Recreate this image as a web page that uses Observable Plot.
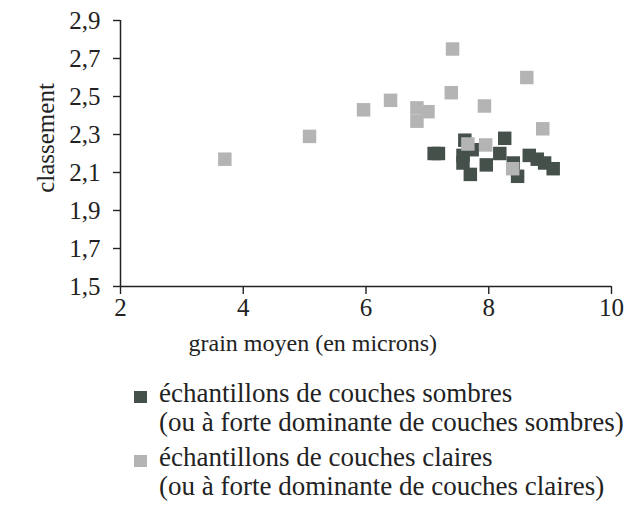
<!DOCTYPE html>
<html>
<head>
<meta charset="utf-8">
<script src="https://cdn.jsdelivr.net/npm/d3@7"></script>
<script src="https://cdn.jsdelivr.net/npm/@observablehq/plot@0.6"></script>
<style>
  body { margin: 0; background: #fff; font-family: "Liberation Serif", "Times New Roman", serif; color: #222; }
  #chart svg { display: block; }
  #chart svg text { font-family: "Liberation Serif", "Times New Roman", serif !important; font-variant: normal !important; font-variant-numeric: normal !important; }
  .legend { padding-top: 14px; font-size: 27px; line-height: 29px; white-space: nowrap; }
  .item { position: relative; padding-left: 159px; }
  .item + .item { margin-top: 6px; }
  .sw { position: absolute; left: 134px; top: 12px; width: 13px; height: 12px; }
</style>
</head>
<body>
<div id="chart"></div>
<div class="legend" id="legend"></div>
<script>
// Dark samples (couches sombres)
const darkX = [7.11, 7.18, 7.61, 7.73, 7.58, 7.58, 7.70, 7.96, 8.26, 8.18, 8.40, 8.47, 8.66, 8.79, 8.91, 9.05];
const darkY = [2.20, 2.20, 2.27, 2.22, 2.19, 2.15, 2.09, 2.14, 2.28, 2.20, 2.15, 2.08, 2.19, 2.17, 2.15, 2.12];
// Light samples (couches claires)
const lightX = [3.70, 5.08, 5.96, 6.40, 6.83, 7.01, 6.83, 7.41, 7.39, 7.93, 8.62, 8.88, 7.66, 7.95, 8.39];
const lightY = [2.17, 2.29, 2.43, 2.48, 2.44, 2.42, 2.37, 2.75, 2.52, 2.45, 2.60, 2.33, 2.25, 2.245, 2.12];

const xTicks = [2, 4, 6, 8, 10];
const yTicks = [1.5, 1.7, 1.9, 2.1, 2.3, 2.5, 2.7, 2.9];
const xLabel = "grain moyen (en microns)";
const yLabel = "classement";
const seriesNames = ["échantillons de couches sombres", "échantillons de couches claires"];
const seriesNotes = ["(ou à forte dominante de couches sombres)", "(ou à forte dominante de couches claires)"];
const seriesColors = ["#46504b", "#b4b4b4"];

const dark = darkX.map((x, i) => ({x, y: darkY[i]}));
const light = lightX.map((x, i) => ({x, y: lightY[i]}));

const chart = Plot.plot({
  width: 639,
  height: 365,
  marginLeft: 120,
  marginRight: 28,
  marginTop: 20,
  marginBottom: 79,
  style: {fontFamily: "'Liberation Serif', 'Times New Roman', serif", fontSize: "24px", color: "#222", background: "#fff", overflow: "visible"},
  x: {domain: [2, 10]},
  y: {domain: [1.5, 2.9]},
  marks: [
    Plot.axisX({ticks: xTicks, tickSize: 8, tickPadding: 4, label: null, tickFormat: d => String(d), fontSize: 25, strokeWidth: 1.4}),
    Plot.axisY({ticks: yTicks, tickSize: 7, tickPadding: 13, label: null, tickFormat: d => d.toFixed(1).replace(".", ","), fontSize: 25, strokeWidth: 1.4}),
    Plot.ruleX([2], {strokeWidth: 1.5, stroke: "#222"}),
    Plot.ruleY([1.5], {strokeWidth: 1.5, stroke: "#222"}),
    Plot.dot(dark, {x: "x", y: "y", symbol: "square", r: 7.6, fill: seriesColors[0]}),
    Plot.dot(light, {x: "x", y: "y", symbol: "square", r: 7.6, fill: seriesColors[1]}),
    Plot.text([xLabel], {text: d => d, frameAnchor: "bottom-left", textAnchor: "start", lineAnchor: "bottom", dx: 68, dy: 64, fontSize: 24}),
    Plot.text([yLabel], {text: d => d, frameAnchor: "left", rotate: -90, textAnchor: "middle", lineAnchor: "bottom", dx: -67, dy: -15.5, fontSize: 25})
  ]
});
document.getElementById("chart").appendChild(chart);

const legend = document.getElementById("legend");
seriesNames.forEach((name, i) => {
  const item = document.createElement("div");
  item.className = "item";
  const sw = document.createElement("span");
  sw.className = "sw";
  sw.style.background = seriesColors[i];
  item.appendChild(sw);
  const l1 = document.createElement("div");
  l1.textContent = name;
  const l2 = document.createElement("div");
  l2.textContent = seriesNotes[i];
  item.appendChild(l1);
  item.appendChild(l2);
  legend.appendChild(item);
});
</script>
</body>
</html>
